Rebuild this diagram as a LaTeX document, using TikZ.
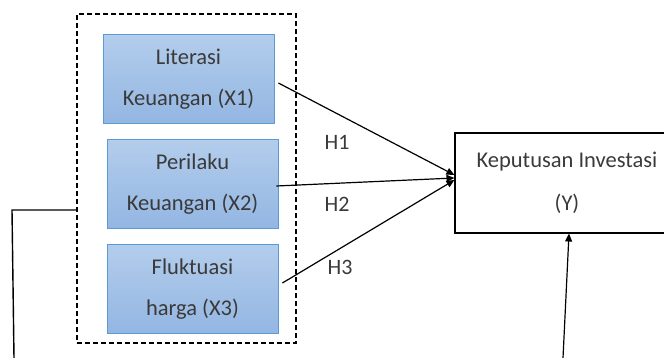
\documentclass[tikz,border=0pt]{standalone}
\usepackage{fontspec}
\setmainfont{Carlito}
\usetikzlibrary{arrows.meta}
\definecolor{boxtop}{HTML}{B3CDEC}
\definecolor{boxbot}{HTML}{93B6E2}
\definecolor{boxline}{HTML}{5B9BD5}
\definecolor{txt}{HTML}{3A3A3A}

\begin{document}
\begin{tikzpicture}[x=1pt, y=-1pt,
  var/.style={draw=boxline, thick, top color=boxtop, bottom color=boxbot,
    minimum width=171pt, minimum height=89pt, align=center, text=txt,
    font=\fontsize{22.5}{41}\selectfont, inner sep=0pt},
  hyp/.style={text=txt, font=\fontsize{22}{24}\selectfont},
  arr/.style={line width=1.2pt, -{Triangle[length=8pt, width=7pt]}}]
\useasboundingbox (0, 0) rectangle (664, 358);
\clip (0, 0) rectangle (664, 358);

\node[draw, dash pattern=on 5pt off 3pt, line width=1.1pt, minimum width=219pt, minimum height=329pt] (grp) at (186.5, 178.5) {};

\node[var] (x1) at (188.5, 79) {Literasi\\Keuangan (X1)};
\node[var] (x2) at (192.5, 184) {Perilaku\\Keuangan (X2)};
\node[var] (x3) at (192.5, 289) {Fluktuasi\\harga (X3)};

\node[draw, line width=1.1pt, minimum width=224pt, minimum height=100pt, align=center, text=txt,
  font=\fontsize{22.5}{43}\selectfont, inner sep=0pt] (y) at (567, 183) {Keputusan Investasi\\(Y)};

\draw[arr] ([xshift=4pt, yshift=-4pt]x1.east) -- ([yshift=8pt]y.west);
\draw[arr] ([xshift=-2pt, yshift=-2pt]x2.east) -- ([yshift=5pt]y.west);
\draw[arr] ([xshift=4pt, yshift=6pt]x3.east) -- ([yshift=3pt]y.west);

\node[hyp] (h1) at (337, 142) {H1};
\node[hyp] (h2) at (337, 204) {H2};
\node[hyp] (h3) at (340, 267) {H3};

\coordinate (yin) at (563, 358);
\draw[arr] (yin) -- ([xshift=2pt]y.south);

\coordinate (xout) at (14, 358);
\draw[line width=1.4pt] ([yshift=-31.5pt]grp.west) -- (12, 210) -- (xout);
\end{tikzpicture}
\end{document}
